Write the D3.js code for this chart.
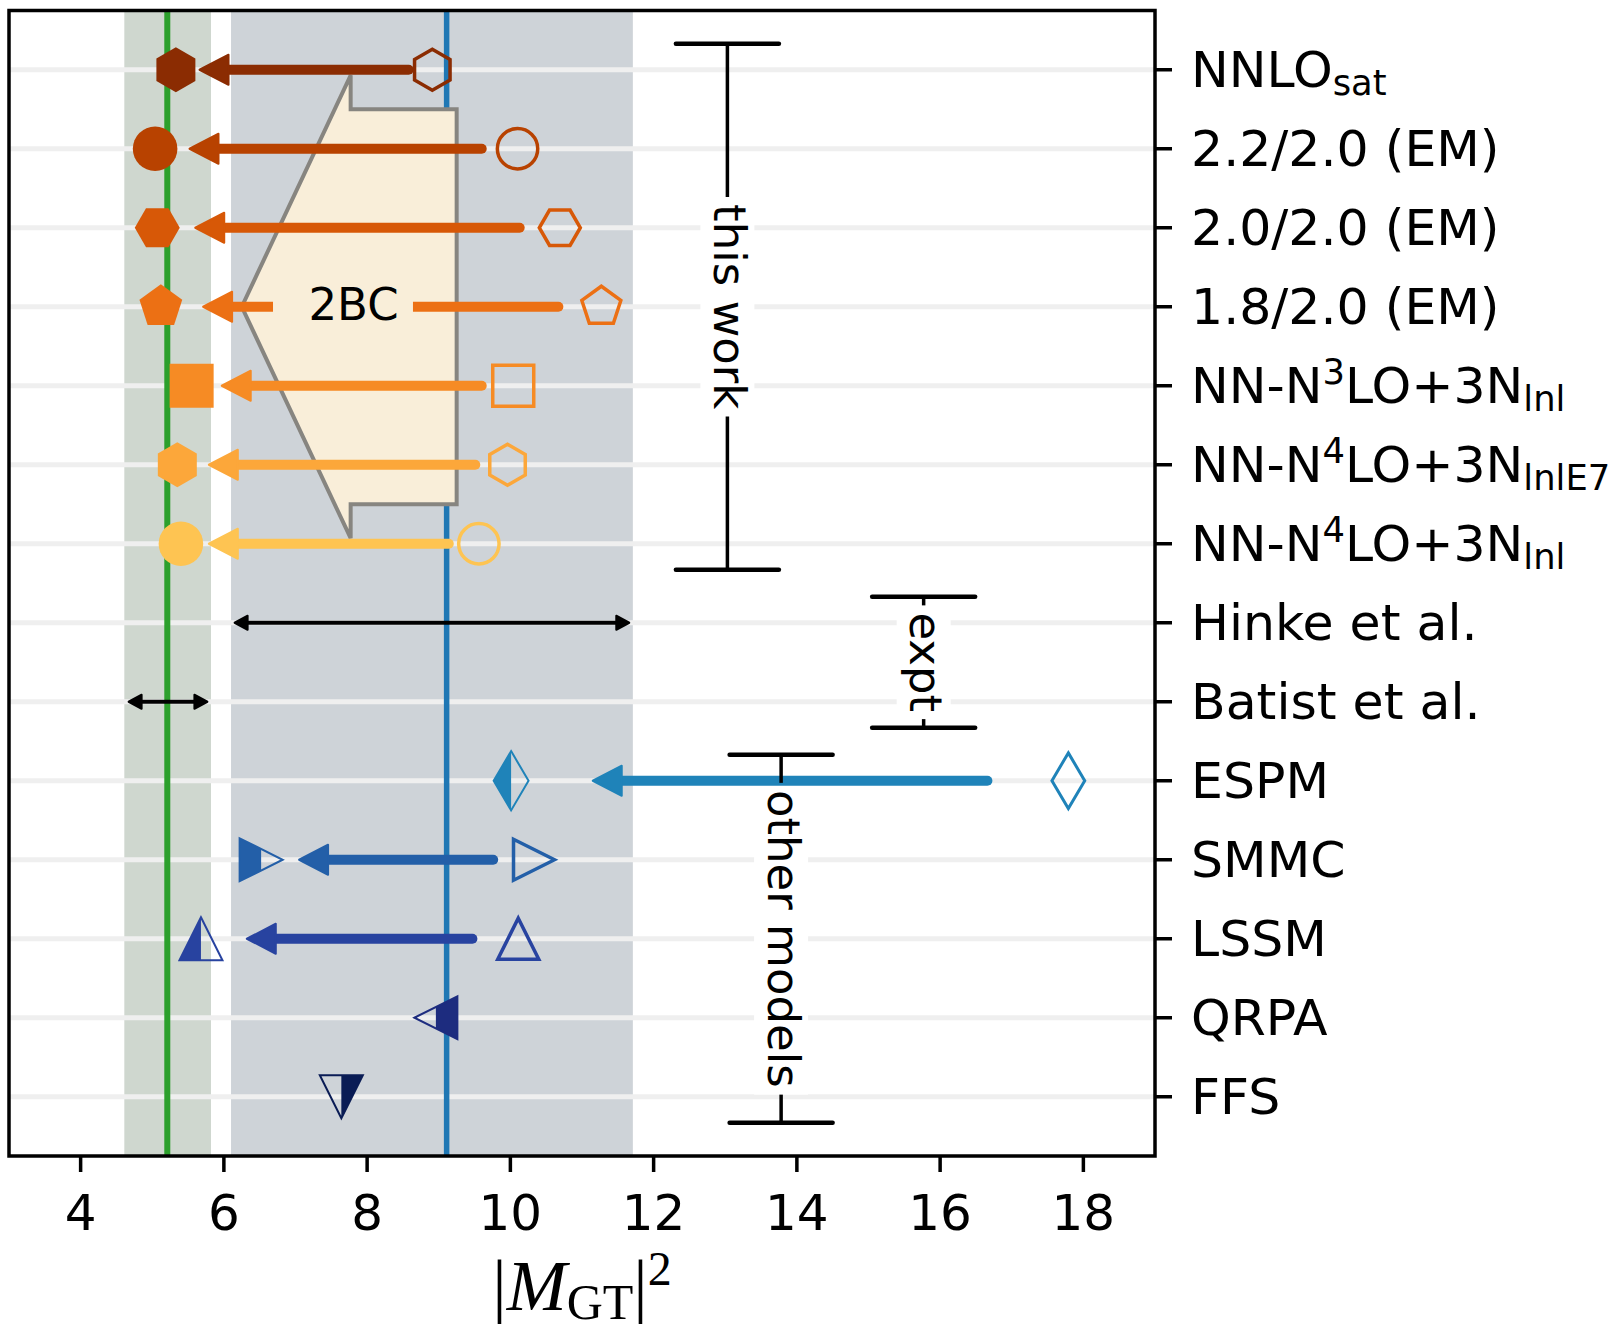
<!DOCTYPE html>
<html>
<head>
  <meta charset="utf-8">
  <title>GT matrix elements</title>
  <script src="https://d3js.org/d3.v7.min.js"></script>
  <style>
    body { margin: 0; background: #fff; }
    text { font-family: "DejaVu Sans", sans-serif; }
  </style>
</head>
<body>
<script>
  // Row labels, top to bottom (_{..} subscript, ^{..} superscript).
  const rowLabels = ["NNLO_{sat}", "2.2/2.0 (EM)", "2.0/2.0 (EM)", "1.8/2.0 (EM)",
    "NN-N^{3}LO+3N_{lnl}", "NN-N^{4}LO+3N_{lnlE7}", "NN-N^{4}LO+3N_{lnl}",
    "Hinke et al.", "Batist et al.", "ESPM", "SMMC", "LSSM", "QRPA", "FFS"];

  // Filled (with 2BC / quenched) and open (without) values.
  const filledX = [5.33, 5.04, 5.07, 5.12, 5.55, 5.35, 5.40, null, null, 10.01, 6.52, 5.68, 8.96, 7.64];
  const openX   = [8.91, 10.10, 10.69, 11.27, 10.04, 9.96, 9.56, null, null, 17.79, 10.33, 10.11, null, null];

  // Arrow tail and tip values.
  const arrowFrom = [8.58, 9.60, 10.13, 10.67, 9.60, 9.51, 9.14, null, null, 16.66, 9.76, 9.47, null, null];
  const arrowTo   = [5.66, 5.52, 5.60, 5.71, 5.97, 5.79, 5.79, null, null, 11.15, 7.05, 6.32, null, null];

  const markerShapes = ["hex", "circle", "hex2", "pentagon", "square", "hex", "circle",
    null, null, "diamond", "triRight", "triUp", "triLeft", "triDown"];
  const halfFill = [null, null, null, null, null, null, null, null, null,
    "left", "left", "left", "right", "right"];

  // Experimental ranges.
  const exptRows = [7, 8];
  const exptLo = [6.15, 4.67];
  const exptHi = [11.66, 5.77];

  // Shaded bands and central values (Batist, Hinke).
  const bandLo = [4.61, 6.10];
  const bandHi = [5.82, 11.71];
  const bandMid = [5.21, 9.11];

  // Group brackets.
  const bracketLabels = ["this work", "expt", "other models"];
  const bracketX = [13.03, 15.77, 13.78];
  const bracketFrom = [-0.33, 6.67, 8.67];
  const bracketTo = [6.33, 8.33, 13.33];

  // 2BC block arrow (x values and half heights in row units).
  const bcTipX = 6.25, bcNeckX = 7.77, bcEndX = 9.25;
  const bcRow = 3, bcHeadHalf = 2.93, bcBodyHalf = 2.5;
  const bcLabelX = 7.81;

  const xTicks = [4, 6, 8, 10, 12, 14, 16, 18];

  const rowColors = ["#8b2c02", "#b84200", "#d75807", "#ec7014", "#f68b24", "#fca73a", "#fec452",
    "#000", "#000", "#1f83b9", "#235fa8", "#2843a0", "#1d2c7f", "#0a1c55"];

  const W = 1615, H = 1324;
  const svg = d3.select("body").append("svg").attr("width", W).attr("height", H);

  const x = d3.scaleLinear().domain([3, 19]).range([9, 1155]);
  const y = d3.scaleLinear().domain([-0.75, 13.75]).range([10.5, 1156]);
  const [x0, x1] = x.range(), [y0, y1] = y.range();

  const defs = svg.append("defs");
  defs.append("clipPath").attr("id", "clipLeft").append("rect")
    .attr("x", -60).attr("y", -60).attr("width", 60).attr("height", 120);
  defs.append("clipPath").attr("id", "clipRight").append("rect")
    .attr("x", 0).attr("y", -60).attr("width", 60).attr("height", 120);

  // bands
  const bandColors = ["#cfd7cf", "#ced3d8"];
  bandLo.forEach((lo, i) => {
    svg.append("rect").attr("x", x(lo)).attr("y", y0)
      .attr("width", x(bandHi[i]) - x(lo)).attr("height", y1 - y0)
      .attr("fill", bandColors[i]);
  });

  // horizontal guide lines
  svg.selectAll(".grid").data(rowLabels).enter().append("line")
    .attr("x1", x0).attr("x2", x1)
    .attr("y1", (d, i) => y(i)).attr("y2", (d, i) => y(i))
    .attr("stroke", "#efefef").attr("stroke-width", 5);

  // central values
  const midColors = ["#2ca02c", "#1f77b4"];
  bandMid.forEach((v, i) => {
    svg.append("line").attr("x1", x(v)).attr("x2", x(v)).attr("y1", y0).attr("y2", y1)
      .attr("stroke", midColors[i]).attr("stroke-width", i === 0 ? 6 : 5.5);
  });

  // white boxes behind the bracket labels (measured first, drawn under the arrows)
  const bracketFont = 45;
  const boxes = bracketLabels.map((lab, i) => {
    const bx = x(bracketX[i]), ya = y(bracketFrom[i]), yb = y(bracketTo[i]);
    const ym = (ya + yb) / 2;
    const tmp = svg.append("text").attr("font-size", bracketFont).text(lab);
    const len = tmp.node().getComputedTextLength();
    tmp.remove();
    const top = ym - len / 2 - 7, bot = ym + len / 2 + 7;
    svg.append("rect").attr("x", bx - 27).attr("y", top).attr("width", 54).attr("height", bot - top)
      .attr("fill", "#fff");
    return { bx, ya, yb, ym, top, bot, lab };
  });

  // 2BC block arrow
  const bcPts = [
    [bcTipX, bcRow], [bcNeckX, bcRow - bcHeadHalf], [bcNeckX, bcRow - bcBodyHalf],
    [bcEndX, bcRow - bcBodyHalf], [bcEndX, bcRow + bcBodyHalf], [bcNeckX, bcRow + bcBodyHalf],
    [bcNeckX, bcRow + bcHeadHalf]
  ];
  svg.append("polygon")
    .attr("points", bcPts.map(p => x(p[0]) + "," + y(p[1])).join(" "))
    .attr("fill", "#f9eed9").attr("stroke", "#878580").attr("stroke-width", 4)
    .attr("stroke-linejoin", "miter");

  // arrows from open to filled
  function arrow(g, xa, xb, yy, color, shaft, headL, headW) {
    const dir = xb < xa ? -1 : 1;
    const base = xb - dir * headL;
    g.append("line").attr("x1", xa).attr("x2", base + dir * 1).attr("y1", yy).attr("y2", yy)
      .attr("stroke", color).attr("stroke-width", shaft).attr("stroke-linecap", "round");
    g.append("path")
      .attr("d", `M${xb},${yy}L${base},${yy - headW}L${base},${yy + headW}Z`)
      .attr("fill", color).attr("stroke", color).attr("stroke-width", 2)
      .attr("stroke-linejoin", "round");
  }
  const gArrows = svg.append("g");
  rowLabels.forEach((d, i) => {
    if (arrowFrom[i] == null) return;
    arrow(gArrows, x(arrowFrom[i]), x(arrowTo[i]), y(i), rowColors[i], 10, 29, 15);
  });

  // 2BC label with its box
  svg.append("rect").attr("x", x(6.686)).attr("y", y(bcRow) - 10)
    .attr("width", x(8.64) - x(6.686)).attr("height", 20).attr("fill", "#f9eed9");
  svg.append("text").attr("x", x(bcLabelX)).attr("y", y(bcRow) + 13)
    .attr("text-anchor", "middle").attr("font-size", 45).text("2BC");

  // experimental ranges (double arrows)
  exptRows.forEach((r, i) => {
    const g = svg.append("g");
    const yy = y(r), a = x(exptLo[i]), b = x(exptHi[i]);
    g.append("line").attr("x1", a + 8).attr("x2", b - 8).attr("y1", yy).attr("y2", yy)
      .attr("stroke", "#000").attr("stroke-width", 4);
    [[a, 1], [b, -1]].forEach(([t, s]) => {
      g.append("path").attr("d", `M${t},${yy}L${t + s * 13},${yy - 7}L${t + s * 13},${yy + 7}Z`)
        .attr("fill", "#000").attr("stroke", "#000").attr("stroke-width", 2)
        .attr("stroke-linejoin", "round");
    });
  });

  // marker shapes
  function shapePath(shape, r) {
    const poly = pts => "M" + pts.map(p => p[0].toFixed(2) + "," + p[1].toFixed(2)).join("L") + "Z";
    const ring = (n, start) => d3.range(n).map(k => {
      const a = (start + k * 360 / n) * Math.PI / 180;
      return [r * Math.cos(a), r * Math.sin(a)];
    });
    switch (shape) {
      case "hex": return poly(ring(6, -90));
      case "hex2": return poly(ring(6, 0));
      case "pentagon": return poly(ring(5, -90));
      case "square": return poly([[-r, -r], [r, -r], [r, r], [-r, r]]);
      case "circle": return `M${-r},0A${r},${r} 0 1,0 ${r},0A${r},${r} 0 1,0 ${-r},0Z`;
      case "diamond": return poly([[0, -r * 1.36], [r * 0.8, 0], [0, r * 1.36], [-r * 0.8, 0]]);
      case "triUp": return poly([[0, -r], [r, r], [-r, r]]);
      case "triDown": return poly([[0, r], [r, -r], [-r, -r]]);
      case "triRight": return poly([[r, 0], [-r, r], [-r, -r]]);
      case "triLeft": return poly([[-r, 0], [r, -r], [r, r]]);
    }
  }
  const filledR = { hex: 22.5, hex2: 22.5, pentagon: 22.5, square: 22, circle: 22.3 };
  const openR = { hex: 20.5, hex2: 20.5, pentagon: 20.5, square: 20.5, circle: 20.2 };

  const gMarks = svg.append("g");
  rowLabels.forEach((d, i) => {
    const shape = markerShapes[i];
    if (!shape) return;
    const c = rowColors[i];
    if (openX[i] != null) {
      const r = shape === "diamond" ? 20.5 : (openR[shape] || 20.5);
      gMarks.append("path").attr("transform", `translate(${x(openX[i])},${y(i)})`)
        .attr("d", shapePath(shape, r)).attr("fill", "none")
        .attr("stroke", c).attr("stroke-width", shape === "diamond" ? 3 : 3.5);
    }
    const g = gMarks.append("g").attr("transform", `translate(${x(filledX[i])},${y(i)})`);
    if (halfFill[i]) {
      const r = shape === "diamond" ? 21.8 : 21.5;
      g.append("path").attr("d", shapePath(shape, r)).attr("fill", c)
        .attr("clip-path", halfFill[i] === "left" ? "url(#clipLeft)" : "url(#clipRight)");
      g.append("path").attr("d", shapePath(shape, r)).attr("fill", "none")
        .attr("stroke", c).attr("stroke-width", 2);
    } else {
      g.append("path").attr("d", shapePath(shape, filledR[shape])).attr("fill", c);
    }
  });

  // group brackets: lines broken by the label box, drawn over the arrows
  boxes.forEach(b => {
    const g = svg.append("g");
    [[b.ya, b.top], [b.bot, b.yb]].forEach(([s, e]) => {
      g.append("line").attr("x1", b.bx).attr("x2", b.bx).attr("y1", s).attr("y2", e)
        .attr("stroke", "#000").attr("stroke-width", 3.5);
    });
    [b.ya, b.yb].forEach(yy => {
      g.append("line").attr("x1", b.bx - 51.5).attr("x2", b.bx + 51.5).attr("y1", yy).attr("y2", yy)
        .attr("stroke", "#000").attr("stroke-width", 4.5).attr("stroke-linecap", "round");
    });
    g.append("text").attr("transform", `translate(${b.bx + 2},${b.ym}) rotate(90)`)
      .attr("text-anchor", "middle").attr("dominant-baseline", "central")
      .attr("font-size", bracketFont).text(b.lab);
  });

  // axes frame
  svg.append("rect").attr("x", x0).attr("y", y0).attr("width", x1 - x0).attr("height", y1 - y0)
    .attr("fill", "none").attr("stroke", "#000").attr("stroke-width", 3.5);

  // x ticks
  const gx = svg.append("g");
  xTicks.forEach(v => {
    gx.append("line").attr("x1", x(v)).attr("x2", x(v)).attr("y1", y1).attr("y2", y1 + 16)
      .attr("stroke", "#000").attr("stroke-width", 3.5);
    gx.append("text").attr("x", x(v)).attr("y", 1230).attr("text-anchor", "middle")
      .attr("font-size", 50).text(v);
  });

  // right-hand row labels
  function parseLabel(s) {
    const parts = [];
    const re = /([_^])\{([^}]*)\}|([^_^]+)/g;
    let m;
    while ((m = re.exec(s)) !== null) {
      if (m[3]) parts.push({ type: "", text: m[3] });
      else parts.push({ type: m[1] === "_" ? "sub" : "sup", text: m[2] });
    }
    return parts;
  }
  const labelSize = 50.5;
  rowLabels.forEach((lab, i) => {
    const yy = y(i);
    svg.append("line").attr("x1", x1).attr("x2", x1 + 17).attr("y1", yy).attr("y2", yy)
      .attr("stroke", "#000").attr("stroke-width", 3.5);
    const t = svg.append("text").attr("x", 1191).attr("y", yy + 17.5).attr("font-size", labelSize);
    let cur = 0;
    parseLabel(lab).forEach(p => {
      const target = p.type === "sub" ? 8 : p.type === "sup" ? -19 : 0;
      t.append("tspan").attr("dy", target - cur)
        .attr("font-size", p.type ? labelSize * 0.7 : labelSize).text(p.text);
      cur = target;
    });
  });

  // x-axis label |M_GT|^2
  const xl = svg.append("text").attr("x", 582).attr("y", 1310).attr("text-anchor", "middle")
    .style("font-family", "'Liberation Serif', serif").attr("font-size", 72);
  xl.append("tspan").text("|");
  xl.append("tspan").attr("font-style", "italic").text("M");
  xl.append("tspan").attr("dy", 9).attr("font-size", 50).text("GT");
  xl.append("tspan").attr("dy", -9).text("|");
  xl.append("tspan").attr("dy", -25).attr("font-size", 48).text("2");
</script>
</body>
</html>
